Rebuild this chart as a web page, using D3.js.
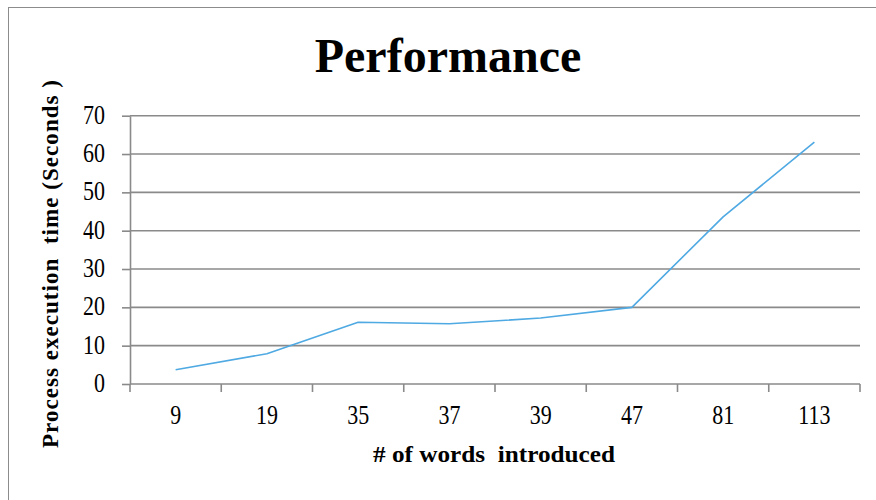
<!DOCTYPE html>
<html>
<head>
<meta charset="utf-8">
<script src="https://cdn.jsdelivr.net/npm/d3@7"></script>
<style>
  html, body { margin: 0; padding: 0; background: #fff; }
  svg { display: block; }
  text { font-family: "Liberation Serif", "Times New Roman", serif; fill: #000; white-space: pre; }
</style>
</head>
<body>
<svg id="chart" width="876" height="500"></svg>
<script>
// Process execution time per number of words introduced
const categories = ["9", "19", "35", "37", "39", "47", "81", "113"];
const seconds = [3.7, 7.9, 16.1, 15.7, 17.2, 20, 43.6, 63.1];
const yTicks = [0, 10, 20, 30, 40, 50, 60, 70];

const titleText = "Performance";
const xTitle = "# of words  introduced";
const yTitle = "Process execution  time (Seconds )";

const W = 876, H = 500;
const plot = { left: 130, right: 860, top: 115.7, bottom: 384 };

const svg = d3.select("#chart");

// outer frame
svg.append("rect")
  .attr("x", 8.5).attr("y", 7.5)
  .attr("width", W + 10).attr("height", H + 10)
  .attr("fill", "none").attr("stroke", "#8c8c8c").attr("stroke-width", 1);

const x = d3.scaleBand().domain(categories).range([plot.left, plot.right]).padding(0);
const y = d3.scaleLinear().domain([0, 70]).range([plot.bottom, plot.top]);

const gridColor = "#8a8a8a";

// horizontal gridlines
svg.append("g")
  .selectAll("line")
  .data(yTicks.filter(d => d > 0))
  .join("line")
  .attr("x1", plot.left).attr("x2", plot.right)
  .attr("y1", d => y(d)).attr("y2", d => y(d))
  .attr("stroke", gridColor).attr("stroke-width", 1.6);

// y axis
const yAxis = svg.append("g")
  .attr("transform", `translate(${plot.left},0)`)
  .call(d3.axisLeft(y).tickValues(yTicks).tickSize(8).tickPadding(17).tickSizeOuter(0));
yAxis.select(".domain").attr("stroke", gridColor).attr("stroke-width", 1.6);
yAxis.selectAll(".tick line").attr("stroke", gridColor).attr("stroke-width", 1.6);
yAxis.selectAll(".tick text")
  .attr("font-family", "Liberation Serif, serif")
  .attr("font-size", 22)
  .attr("fill", "#222")
  .attr("dy", null)
  .attr("y", 0)
  .attr("transform", "translate(0,7.5) scale(1,1.2)");

// x axis: ticks sit on the category boundaries
const xAxis = svg.append("g")
  .attr("transform", `translate(0,${plot.bottom})`);
xAxis.append("line")
  .attr("x1", plot.left).attr("x2", plot.right)
  .attr("y1", 0).attr("y2", 0)
  .attr("stroke", gridColor).attr("stroke-width", 1.6);
const bounds = categories.map(c => x(c)).concat([plot.right]);
xAxis.selectAll("line.tk")
  .data(bounds)
  .join("line")
  .attr("class", "tk")
  .attr("x1", d => d).attr("x2", d => d)
  .attr("y1", 0).attr("y2", 8)
  .attr("stroke", gridColor).attr("stroke-width", 1.6);
xAxis.selectAll("text.lbl")
  .data(categories)
  .join("text")
  .attr("class", "lbl")
  .attr("text-anchor", "middle")
  .attr("font-size", 22)
  .attr("fill", "#222")
  .attr("transform", d => `translate(${x(d) + x.bandwidth() / 2},39.5) scale(1,1.2)`)
  .text(d => d);

// series line
const line = d3.line()
  .x((d, i) => x(categories[i]) + x.bandwidth() / 2)
  .y(d => y(d));
svg.append("path")
  .datum(seconds)
  .attr("d", line)
  .attr("fill", "none")
  .attr("stroke", "#4fa9e2")
  .attr("stroke-width", 1.6)
  .attr("stroke-linejoin", "round");

// titles
svg.append("text")
  .attr("x", 448).attr("y", 72)
  .attr("text-anchor", "middle")
  .attr("font-size", 48).attr("font-weight", "bold")
  .text(titleText);

svg.append("text")
  .attr("x", 494).attr("y", 462)
  .attr("text-anchor", "middle")
  .attr("font-size", 24).attr("font-weight", "bold")
  .attr("textLength", 242).attr("lengthAdjust", "spacingAndGlyphs")
  .text(xTitle);

svg.append("text")
  .attr("transform", "translate(58,264) rotate(-90)")
  .attr("text-anchor", "middle")
  .attr("font-size", 23).attr("font-weight", "bold")
  .attr("textLength", 368).attr("lengthAdjust", "spacing")
  .text(yTitle);
</script>
</body>
</html>
